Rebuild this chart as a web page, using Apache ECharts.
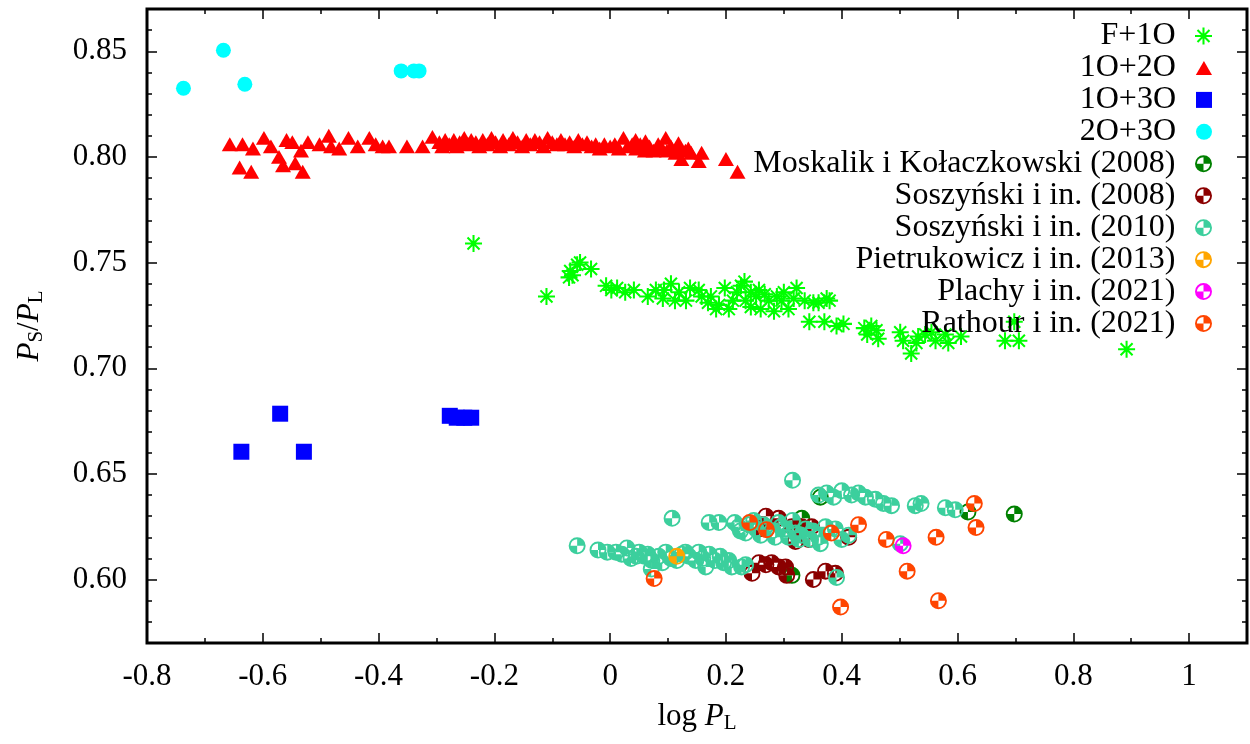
<!DOCTYPE html>
<html><head><meta charset="utf-8">
<script src="https://cdn.jsdelivr.net/npm/echarts@6/dist/echarts.min.js"></script>
<style>html,body{margin:0;padding:0;background:#fff}#c{width:1250px;height:744px}</style>
</head><body><div id="c"></div>
<script>
// ---------- data ----------
const seriesNames = ['F+1O','1O+2O','1O+3O','2O+3O','Moskalik i Kołaczkowski (2008)','Soszyński i in. (2008)','Soszyński i in. (2010)','Pietrukowicz i in. (2013)','Plachy i in. (2021)','Rathour i in. (2021)'];
const xMajorTicks = [-0.8,-0.6,-0.4,-0.2,0,0.2,0.4,0.6,0.8,1.0];
const yMajorTicks = [0.60,0.65,0.70,0.75,0.80,0.85];

const f1o = [[-0.236,0.759],[-0.110,0.734],[-0.071,0.743],[-0.069,0.746],[-0.065,0.744],[-0.057,0.749],[-0.052,0.750],[-0.033,0.747],[-0.007,0.739],[0.002,0.737],[0.012,0.738],[0.026,0.736],[0.041,0.737],[0.065,0.734],[0.079,0.737],[0.091,0.733],[0.093,0.737],[0.105,0.740],[0.112,0.732],[0.119,0.736],[0.131,0.732],[0.138,0.738],[0.153,0.737],[0.158,0.734],[0.169,0.731],[0.174,0.734],[0.183,0.728],[0.188,0.730],[0.198,0.738],[0.205,0.728],[0.212,0.732],[0.219,0.736],[0.226,0.739],[0.232,0.741],[0.234,0.732],[0.243,0.729],[0.243,0.736],[0.252,0.734],[0.257,0.737],[0.260,0.728],[0.267,0.735],[0.274,0.732],[0.283,0.727],[0.288,0.734],[0.296,0.732],[0.300,0.736],[0.308,0.728],[0.317,0.733],[0.322,0.738],[0.336,0.732],[0.344,0.722],[0.351,0.731],[0.360,0.731],[0.370,0.722],[0.374,0.733],[0.379,0.732],[0.391,0.720],[0.403,0.721],[0.439,0.719],[0.444,0.716],[0.451,0.720],[0.460,0.718],[0.463,0.714],[0.501,0.717],[0.506,0.713],[0.520,0.707],[0.529,0.712],[0.532,0.715],[0.544,0.716],[0.555,0.717],[0.562,0.713],[0.579,0.716],[0.584,0.712],[0.606,0.715],[0.682,0.713],[0.698,0.722],[0.706,0.713],[0.892,0.709]];

const o1o2 = [[-0.657,0.806],[-0.635,0.806],[-0.617,0.804],[-0.640,0.795],[-0.620,0.793],[-0.598,0.809],[-0.586,0.805],[-0.572,0.800],[-0.565,0.796],[-0.559,0.808],[-0.549,0.807],[-0.534,0.803],[-0.544,0.797],[-0.531,0.793],[-0.522,0.807],[-0.502,0.806],[-0.486,0.810],[-0.482,0.805],[-0.468,0.804],[-0.452,0.809],[-0.436,0.805],[-0.416,0.809],[-0.405,0.806],[-0.393,0.805],[-0.382,0.805],[-0.351,0.805],[-0.324,0.805],[-0.307,0.8095],
[-0.295,0.807],[-0.290,0.805],[-0.285,0.808],[-0.278,0.806],[-0.270,0.808],[-0.265,0.805],[-0.260,0.807],[-0.252,0.809],[-0.245,0.806],[-0.240,0.808],[-0.232,0.807],[-0.226,0.805],[-0.220,0.808],[-0.212,0.806],[-0.205,0.809],[-0.198,0.807],[-0.190,0.805],[-0.185,0.808],[-0.175,0.806],[-0.168,0.809],[-0.160,0.807],[-0.152,0.805],[-0.145,0.808],[-0.138,0.806],[-0.130,0.808],[-0.122,0.807],[-0.115,0.805],[-0.108,0.809],[-0.100,0.807],[-0.092,0.806],[-0.085,0.808],[-0.078,0.806],[-0.070,0.807],[-0.062,0.805],[-0.055,0.808],[-0.048,0.806],[-0.040,0.807],[-0.032,0.805],[-0.025,0.806],[-0.018,0.804],[-0.010,0.806],[0.000,0.805],[0.008,0.806],[0.015,0.804],[0.023,0.809],[0.030,0.805],[0.038,0.806],[0.044,0.808],[0.045,0.804],[0.052,0.806],[0.061,0.8075],[0.060,0.803],[0.068,0.805],[0.075,0.803],[0.083,0.806],[0.090,0.804],[0.096,0.809],[0.098,0.803],[0.105,0.805],[0.113,0.802],[0.118,0.8065],[0.120,0.804],[0.123,0.799],[0.130,0.803],[0.135,0.804],[0.140,0.802],[0.153,0.798],[0.158,0.802],[0.200,0.799],[0.220,0.793]];

const o1o3 = [[-0.637,0.6605],[-0.570,0.6785],[-0.529,0.6605],[-0.277,0.6775],[-0.265,0.6766],[-0.252,0.6766],[-0.240,0.6766]];

const o2o3 = [[-0.737,0.8325],[-0.668,0.8505],[-0.631,0.8344],[-0.361,0.8407],[-0.339,0.8407],[-0.330,0.8407]];

const moskalik = [[0.314,0.602],[0.331,0.629],[0.363,0.639],[0.618,0.632],[0.698,0.631]];

const sosz2008 = [[0.245,0.603],[0.257,0.608],[0.269,0.607],[0.279,0.608],[0.291,0.606],[0.303,0.606],[0.305,0.602],[0.351,0.600],[0.372,0.604],[0.389,0.603],[0.269,0.630],[0.291,0.629],[0.314,0.625],[0.331,0.625],[0.320,0.618],[0.348,0.625],[0.412,0.620],[0.257,0.624],[0.343,0.619]];

const sosz2010 = [[-0.057,0.616],[-0.021,0.614],[-0.005,0.613],[0.010,0.613],[0.020,0.612],[0.029,0.615],[0.036,0.610],[0.045,0.611],[0.050,0.613],[0.059,0.611],[0.065,0.612],[0.071,0.605],[0.072,0.609],[0.084,0.611],[0.090,0.608],[0.096,0.613],[0.105,0.610],[0.115,0.609],[0.124,0.612],[0.130,0.613],[0.136,0.611],[0.148,0.609],[0.153,0.613],[0.160,0.610],[0.165,0.606],[0.171,0.612],[0.181,0.609],[0.190,0.611],[0.196,0.608],[0.205,0.609],[0.210,0.606],[0.227,0.606],[0.234,0.607],[0.107,0.629],[0.171,0.627],[0.188,0.627],[0.215,0.627],[0.222,0.625],[0.225,0.623],[0.234,0.622],[0.240,0.626],[0.248,0.628],[0.252,0.624],[0.260,0.621],[0.265,0.626],[0.270,0.624],[0.279,0.623],[0.285,0.620],[0.291,0.627],[0.295,0.625],[0.303,0.624],[0.308,0.620],[0.315,0.628],[0.320,0.622],[0.326,0.619],[0.330,0.621],[0.338,0.624],[0.346,0.619],[0.350,0.623],[0.360,0.620],[0.363,0.617],[0.372,0.625],[0.389,0.624],[0.400,0.619],[0.412,0.621],[0.315,0.647],[0.360,0.640],[0.374,0.641],[0.386,0.639],[0.400,0.642],[0.417,0.640],[0.429,0.641],[0.441,0.639],[0.458,0.638],[0.472,0.636],[0.486,0.635],[0.527,0.635],[0.537,0.636],[0.579,0.634],[0.596,0.633],[0.391,0.601],[0.501,0.617]];

const pietrukowicz = [[0.115,0.611]];
const plachy = [[0.506,0.616]];
const rathour = [[0.076,0.6005],[0.241,0.627],[0.270,0.6236],[0.382,0.622],[0.429,0.626],[0.477,0.619],[0.563,0.620],[0.629,0.636],[0.632,0.6246],[0.513,0.604],[0.567,0.590],[0.398,0.587]];

// ---------- symbols ----------
const STAR = 'path://M0,8.8L20,8.8L20,11.2L0,11.2Z M8.8,0L11.2,0L11.2,20L8.8,20Z M3.778,2.081L17.919,16.222L16.222,17.919L2.081,3.778Z M16.222,2.081L17.919,3.778L3.778,17.919L2.081,16.222Z';
const TRI = 'path://M10,0L20,17.32L0,17.32Z';
const SQR = 'path://M0,0L20,0L20,20L0,20Z';
const QUAD = 'path://M0,10A10,10 0 1 1 20,10A10,10 0 1 1 0,10Z M2.2,10A7.8,7.8 0 1 0 17.8,10A7.8,7.8 0 1 0 2.2,10Z M10,10L10,2.2A7.8,7.8 0 0 1 17.8,10Z M10,10L10,17.8A7.8,7.8 0 0 1 2.2,10Z';

const FONT = 'Liberation Serif';
const seriesDefs = [
  {data: f1o, color: '#00ff00', symbol: STAR, size: 17, leg: 17},
  {data: o1o2, color: '#ff0000', symbol: TRI, size: 16, leg: 14},
  {data: o1o3, color: '#0000ff', symbol: SQR, size: 16, leg: 16},
  {data: o2o3, color: '#00ffff', symbol: 'circle', size: 15, leg: 16},
  {data: moskalik, color: '#008000', symbol: QUAD, size: 17, leg: 17},
  {data: sosz2008, color: '#8b0000', symbol: QUAD, size: 17, leg: 17},
  {data: sosz2010, color: '#3ccf9d', symbol: QUAD, size: 17, leg: 17},
  {data: pietrukowicz, color: '#ffa500', symbol: QUAD, size: 17, leg: 17},
  {data: plachy, color: '#ff00ff', symbol: QUAD, size: 17, leg: 17},
  {data: rathour, color: '#ff4500', symbol: QUAD, size: 17, leg: 17}
];

const series = seriesDefs.map((d, i) => ({
  type: 'scatter', name: seriesNames[i], data: d.data,
  symbol: d.symbol, symbolSize: d.size, symbolKeepAspect: true,
  itemStyle: {color: d.color, opacity: 1},
  emphasis: {disabled: true}, silent: true, animation: false, z: 2 + i * 0.01
}));

const legends = seriesDefs.map((d, i) => {
  const c = 36 + 31.95 * i;
  return {
    orient: 'vertical', right: 38, top: c - 16, padding: 0, itemGap: 0,
    itemWidth: 46, itemHeight: d.leg, align: 'right', selectedMode: false,
    symbolKeepAspect: true,
    data: [{name: seriesNames[i], icon: d.symbol}],
    textStyle: {fontFamily: FONT, fontSize: 32, lineHeight: 32, color: '#000'}
  };
});

const tickStyle = {color: '#000', width: 1.5};
const labelStyle = {fontFamily: FONT, fontSize: 31, color: '#000'};
const richStyle = {
  n: {fontFamily: FONT, fontSize: 31, lineHeight: 34, color: '#000'},
  i: {fontFamily: FONT, fontSize: 31, fontStyle: 'italic', lineHeight: 34, color: '#000'},
  s: {fontFamily: FONT, fontSize: 21, lineHeight: 14, verticalAlign: 'bottom', color: '#000'}
};

function xAx(pos, major, withLabel) {
  const a = {type: 'value', position: pos, min: -0.8, max: 1.1,
    axisLine: {show: false, onZero: false}, splitLine: {show: false}};
  if (major) {
    a.axisTick = {inside: true, length: 10, customValues: xMajorTicks, lineStyle: tickStyle};
    a.axisLabel = withLabel ? Object.assign({customValues: xMajorTicks, margin: 18,
      formatter: v => String(Math.round(v * 10) / 10)}, labelStyle) : {show: false};
  } else {
    a.interval = 0.1;
    a.axisTick = {inside: true, length: 5, lineStyle: tickStyle};
    a.axisLabel = {show: false};
  }
  return a;
}
function yAx(pos, major, withLabel) {
  const a = {type: 'value', position: pos, min: 0.57, max: 0.87,
    axisLine: {show: false, onZero: false}, splitLine: {show: false}};
  if (major) {
    a.axisTick = {inside: true, length: 10, customValues: yMajorTicks, lineStyle: tickStyle};
    a.axisLabel = withLabel ? Object.assign({customValues: yMajorTicks, margin: 20,
      formatter: v => v.toFixed(2)}, labelStyle) : {show: false};
  } else {
    a.interval = 0.01;
    a.axisTick = {inside: true, length: 5, lineStyle: tickStyle};
    a.axisLabel = {show: false};
  }
  return a;
}

const xAxes = [xAx('bottom', false), xAx('bottom', true, true), xAx('top', false), xAx('top', true, false)];
Object.assign(xAxes[1], {name: '{n|log }{i|P}{s|L}', nameLocation: 'middle', nameGap: 57,
  nameTextStyle: {fontFamily: FONT, fontSize: 31, color: '#000', rich: richStyle}});
const yAxes = [yAx('left', false), yAx('left', true, true), yAx('right', false), yAx('right', true, false)];
Object.assign(yAxes[1], {name: '{i|P}{s|S}{n|/}{i|P}{s|L}', nameLocation: 'middle', nameGap: 100, nameRotate: 90,
  nameTextStyle: {fontFamily: FONT, fontSize: 31, color: '#000', rich: richStyle}});

const chart = echarts.init(document.getElementById('c'), null, {renderer: 'canvas'});
chart.setOption({
  animation: false,
  backgroundColor: '#fff',
  grid: {left: 147, right: 3, top: 9, bottom: 101, show: true, borderColor: '#000', borderWidth: 3, backgroundColor: 'transparent'},
  xAxis: xAxes,
  yAxis: yAxes,
  legend: legends,
  series: series
});
</script></body></html>
